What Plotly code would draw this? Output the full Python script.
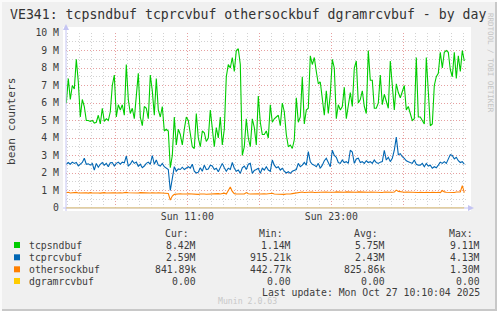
import plotly.graph_objects as go
import pandas as pd

# ---------------- data (values in millions) ----------------
series_names = ["tcpsndbuf", "tcprcvbuf", "othersockbuf", "dgramrcvbuf"]
series_colors = ["#00CC00", "#0066B3", "#FF8000", "#FFCC00"]

tcpsndbuf = [
    6.0, 7.4, 6.2, 7.0, 6.8, 8.5, 7.2, 5.2, 6.2, 5.8,
    5.0, 5.0, 4.95, 5.0, 4.85, 4.9, 5.3, 4.8, 5.7, 4.95,
    5.1, 5.0, 5.5, 7.0, 7.6, 5.2, 5.9, 5.6, 5.9, 5.3,
    8.2, 6.2, 5.4, 5.7, 5.1, 6.5, 7.7, 5.2, 4.7, 5.8,
    5.7, 5.1, 7.6, 6.7, 5.3, 7.4, 5.6, 5.2, 5.8, 4.4,
    4.5, 4.4, 2.3, 3.0, 5.2, 3.6, 4.5, 4.2, 3.6, 4.5,
    5.2, 5.0, 4.3, 3.5, 3.4, 5.4, 4.0, 3.5, 4.4, 4.3,
    3.8, 4.0, 5.6, 4.5, 3.5, 4.6, 4.0, 5.2, 3.6, 4.5,
    7.5, 8.2, 8.0, 8.6, 7.8, 9.0, 9.1, 8.2, 3.0, 3.5,
    5.1, 4.0, 3.5, 5.1, 4.6, 3.6, 6.4, 4.9, 4.2,
    4.2, 4.4, 4.0, 5.9, 4.9, 5.1, 5.2, 5.3, 4.7, 6.0,
    5.5, 4.2, 3.5, 3.6, 3.4, 3.9, 6.3, 4.9, 5.2, 7.5,
    4.8, 5.6, 5.7, 8.7, 8.2, 8.6, 7.8, 7.1, 7.2, 6.1,
    5.3, 6.7, 5.4, 6.5, 8.5, 8.0, 5.1, 5.9, 5.6, 5.8,
    6.9, 5.1, 5.9, 6.6, 5.8, 8.0, 8.4, 6.0, 6.2, 6.7,
    5.8,
    5.4, 9.0, 7.3, 7.3, 5.7, 5.7, 6.0, 7.6, 5.9, 6.5,
    6.1, 5.7, 8.4, 7.0, 5.6, 7.1, 6.6, 6.3, 6.7, 7.0,
    5.6, 5.8, 5.4, 5.0, 5.1, 8.6, 5.2, 5.2, 5.0, 4.8,
    8.6, 6.2, 4.7, 4.8, 7.0, 7.5, 7.7, 8.9, 8.0, 8.9,
    9.0, 8.9, 7.9, 7.5, 8.9, 7.4, 8.7, 7.8, 9.0, 8.4,
]

tcprcvbuf = [
    2.5, 2.6, 2.5, 2.62, 2.55, 2.6, 2.4, 2.52, 2.6, 2.84,
    2.5, 2.53, 2.45, 2.55, 2.17, 2.55, 2.33, 2.5, 2.6, 2.45,
    2.55, 2.36, 2.58, 2.6, 2.4, 2.55, 2.62, 2.5, 2.62, 2.58,
    2.97, 2.4, 2.5, 2.7, 2.55, 2.62, 2.38, 2.5, 2.3, 2.4,
    2.55, 2.62, 2.5, 3.0, 2.5, 2.74, 2.45, 2.4, 2.55, 2.36,
    2.3, 2.2, 1.0, 1.7, 2.36, 2.1, 2.23, 2.2, 2.33, 2.2,
    2.3, 2.36, 2.28, 2.5, 2.1, 2.0, 2.05,
    2.3, 2.1, 2.45, 2.2, 2.23, 2.45, 2.4, 2.2, 2.27, 2.07,
    2.36, 2.55, 2.3, 2.1, 2.27, 2.2, 2.6, 2.27, 2.1, 2.17,
    1.98, 2.3, 2.4, 2.2, 2.5, 2.55, 1.98, 2.15, 2.2, 2.27,
    1.98, 2.27, 2.17, 2.36, 2.17, 2.1, 2.74, 2.45, 2.3, 2.36,
    2.17, 2.27, 2.1, 2.0, 2.07, 1.98, 2.1, 2.17, 2.2, 2.55,
    2.36, 2.45, 2.6, 2.45, 3.22, 2.64, 2.5, 2.45, 2.36, 2.55,
    2.27, 2.45, 2.7, 2.84, 2.55, 2.36, 3.3, 3.0,
    2.9, 2.6, 2.55, 2.74, 2.6, 2.65, 2.55, 3.3, 3.2, 2.55,
    2.8, 2.85, 2.6, 2.65, 2.55, 2.7, 2.6, 2.65, 2.55, 2.74,
    2.6, 2.55, 2.62, 2.65, 3.3, 2.74, 2.9, 2.65, 2.84, 3.3,
    4.05, 3.05, 3.1, 2.93, 2.84, 2.7, 2.65, 2.6, 2.55, 2.74,
    2.5, 2.45, 2.45, 2.55, 2.36, 2.55, 2.4, 2.45, 2.27, 2.36,
    2.3, 2.45, 2.62, 2.55, 2.65, 2.55, 2.8, 3.05, 3.0, 2.8,
    2.9, 2.7, 2.6, 2.65, 2.5,
]

othersockbuf = [
    0.88, 0.9, 0.86, 0.88, 0.87, 0.89, 0.86, 0.87, 0.88, 0.86,
    0.87, 0.85, 0.88, 0.86, 0.87, 0.88, 0.86, 0.85, 0.87, 0.88,
    0.86, 0.87, 0.88, 0.89, 0.87, 0.86, 0.88, 0.87, 0.86, 0.88,
    0.89, 0.87, 0.86, 0.88, 0.87, 0.85, 0.86, 0.88, 0.87, 0.86,
    0.87, 0.88, 0.86, 0.87, 0.85, 0.86, 0.87, 0.86, 0.85, 0.86,
    0.84, 0.83,
    0.45, 0.68, 0.78, 0.8, 0.79, 0.81, 0.8, 0.78, 0.8, 0.81,
    0.8, 0.79, 0.81, 0.8, 0.78, 0.8, 0.82, 0.8, 0.79, 0.8,
    0.81, 0.8, 0.79, 0.8, 0.82, 0.8, 0.81, 0.85, 0.8, 1.05,
    1.2, 0.95, 0.82, 0.8, 0.81, 0.8, 0.82, 0.8, 0.88, 0.81,
    0.8, 0.81, 0.82, 0.8, 0.81, 0.8, 0.82, 0.81, 0.8, 0.82,
    0.8, 0.84, 0.8, 0.79, 0.78, 0.8, 0.79, 0.78, 0.8, 0.79,
    0.8, 0.82, 0.84, 0.86, 0.88,
    0.9, 0.91, 0.89, 0.9, 0.92, 0.9, 0.91, 0.89, 0.9, 0.91,
    0.9, 0.92, 0.9, 0.91, 0.9, 0.89, 0.91, 0.9, 0.92, 0.91,
    0.9, 0.91, 0.9, 0.92, 0.91, 0.9, 0.89, 0.91, 0.9, 0.92,
    0.91, 0.9, 0.91, 0.89, 0.9, 0.91, 0.9, 0.92, 0.9, 0.91,
    0.9, 0.89, 0.91, 0.9, 0.92, 0.91, 0.9, 0.91, 1.02, 0.95,
    0.92, 0.91, 0.9, 0.91, 0.9, 0.89, 0.9, 0.91, 0.9, 0.89,
    0.9, 0.88, 0.89, 0.9, 0.88, 0.89, 0.9, 0.88, 0.89, 0.9,
    0.88, 1.0, 0.92, 0.9, 0.89, 0.91, 0.9, 0.89, 0.91, 0.9,
    0.92, 1.28, 0.88,
]

dgramrcvbuf = [0.0] * 200

cur_vals = ["8.42M", "2.59M", "841.89k", "0.00"]
min_vals = ["1.14M", "915.21k", "442.77k", "0.00"]
avg_vals = ["5.75M", "2.43M", "825.86k", "0.00"]
max_vals = ["9.11M", "4.13M", "1.30M", "0.00"]

y_tick_vals = list(range(0, 11))
y_tick_text = ["0"] + [f"{v} M" for v in range(1, 11)]
x_tick_vals = ["2025-10-26 05:00", "2025-10-26 11:00", "2025-10-26 17:00",
               "2025-10-26 23:00", "2025-10-27 05:00"]
x_tick_text = ["", "Sun 11:00", "", "Sun 23:00", ""]

title_text = "VE341: tcpsndbuf tcprcvbuf othersockbuf dgramrcvbuf - by day"
last_update = "Last update: Mon Oct 27 10:10:04 2025"

# ---------------- geometry ----------------
W, H = 497, 311
PL, PR, PT, PB = 66, 466, 33, 208
FONT = "DejaVu Sans Mono"
TXT = "#3c3c3c"


def px(x):
    return (x - PL) / (PR - PL)


def py(y):
    return (PB - y) / (PB - PT)


times = pd.date_range("2025-10-26 00:55", periods=len(tcpsndbuf), freq="10min")
x_range = ["2025-10-26 00:53:30", "2025-10-27 10:13:30"]
major_set = set(pd.to_datetime(x_tick_vals))
minor_x = [t for t in pd.date_range("2025-10-26 01:00", "2025-10-27 10:00", freq="1h")
           if t not in major_set]
minor_y = [v + 0.5 for v in range(0, 10)]

fig = go.Figure()
for name, vals, col in zip(series_names,
                           [tcpsndbuf, tcprcvbuf, othersockbuf, dgramrcvbuf],
                           series_colors):
    fig.add_trace(go.Scatter(x=times, y=vals, mode="lines", name=name,
                             line=dict(color=col, width=1.1), hoverinfo="skip"))

fig.update_layout(
    width=W, height=H,
    margin=dict(l=PL, r=W - PR, t=PT, b=H - PB, pad=0),
    paper_bgcolor="#F0F0F0", plot_bgcolor="#FFFFFF",
    showlegend=False,
    font=dict(family=FONT, size=10, color=TXT),
)

fig.update_xaxes(
    type="date", range=x_range, tickmode="array",
    tickvals=x_tick_vals, ticktext=x_tick_text,
    showgrid=True, gridcolor="#E6A0A0", griddash="1px,2px", gridwidth=1,
    ticks="", showline=False, zeroline=False,
    tickfont=dict(family=FONT, size=9.8, color=TXT),
    ticklabelstandoff=1,
    minor=dict(tickmode="array", tickvals=minor_x, showgrid=True,
               gridcolor="#D2D2D2", griddash="1px,2px", gridwidth=1),
)
fig.update_yaxes(
    range=[0, 10], tickmode="array", tickvals=y_tick_vals, ticktext=y_tick_text,
    showgrid=True, gridcolor="#E6A0A0", griddash="1px,2px", gridwidth=1,
    ticks="", showline=False, zeroline=False,
    tickfont=dict(family=FONT, size=9.8, color=TXT),
    ticklabelstandoff=6,
    minor=dict(tickmode="array", tickvals=minor_y, showgrid=True,
               gridcolor="#D2D2D2", griddash="1px,2px", gridwidth=1),
)

shapes = []
AX = "#C4C4F2"
# white canvas extension around plot area
shapes.append(dict(type="rect", xref="paper", yref="paper", layer="below",
                   x0=px(63), x1=px(471), y0=py(211), y1=py(27),
                   fillcolor="#FFFFFF", line=dict(width=0)))
# axes with arrows
shapes.append(dict(type="line", xref="paper", yref="paper", layer="above",
                   x0=px(66), x1=px(66), y0=py(211), y1=py(28),
                   line=dict(color=AX, width=1)))
shapes.append(dict(type="path", xref="paper", yref="paper", layer="above",
                   path=f"M {px(63)} {py(30)} L {px(69)} {py(30)} L {px(66)} {py(24)} Z",
                   fillcolor=AX, line=dict(width=0)))
shapes.append(dict(type="line", xref="paper", yref="paper", layer="above",
                   x0=px(63), x1=px(468), y0=py(208), y1=py(208),
                   line=dict(color=AX, width=1)))
shapes.append(dict(type="line", xref="paper", yref="paper", layer="above",
                   x0=px(66), x1=px(464), y0=py(208), y1=py(208),
                   line=dict(color="#E3C98A", width=1)))
shapes.append(dict(type="path", xref="paper", yref="paper", layer="above",
                   path=f"M {px(468)} {py(205)} L {px(468)} {py(211)} L {px(474)} {py(208)} Z",
                   fillcolor=AX, line=dict(width=0)))
# 3D frame
shapes.append(dict(type="line", xref="paper", yref="paper", x0=px(0), x1=px(497),
                   y0=py(310), y1=py(310), line=dict(color="#C8C8C8", width=2)))
shapes.append(dict(type="line", xref="paper", yref="paper", x0=px(496), x1=px(496),
                   y0=py(0), y1=py(311), line=dict(color="#C8C8C8", width=2)))
shapes.append(dict(type="line", xref="paper", yref="paper", x0=px(1), x1=px(1),
                   y0=py(0), y1=py(311), line=dict(color="#FAFAFA", width=2)))
shapes.append(dict(type="line", xref="paper", yref="paper", x0=px(0), x1=px(497),
                   y0=py(1), y1=py(1), line=dict(color="#FAFAFA", width=2)))

# legend squares
row_y = [245, 257.3, 269.3, 281]
for col, yy in zip(series_colors, row_y):
    shapes.append(dict(type="rect", xref="paper", yref="paper",
                       x0=px(14), x1=px(20), y0=py(yy + 3), y1=py(yy - 3),
                       fillcolor=col, line=dict(width=0)))
fig.update_layout(shapes=shapes)

ann = []


def txt(x, y, s, anchor="left", size=9.8, color=TXT, angle=0):
    ann.append(dict(xref="paper", yref="paper", x=px(x), y=py(y), text=s,
                    showarrow=False, xanchor=anchor, yanchor="middle",
                    textangle=angle,
                    font=dict(family=FONT, size=size, color=color)))


txt(8, 14, title_text, size=13.2, color="#333333")
txt(11, 121, "bean counters", anchor="center", size=11.2, angle=-90)
txt(490, 63, "RRDTOOL / TOBI OETIKER", anchor="center", size=7.5,
    color="#C4C4C4", angle=90)

for hx, h in zip([163, 257, 352, 447], ["Cur:", "Min:", "Avg:", "Max:"]):
    txt(hx, 233.3, h)
for i, name in enumerate(series_names):
    yy = row_y[i]
    txt(26.5, yy, name)
    txt(198, yy, cur_vals[i], anchor="right")
    txt(293, yy, min_vals[i], anchor="right")
    txt(387, yy, avg_vals[i], anchor="right")
    txt(482, yy, max_vals[i], anchor="right")
txt(482, 292.7, last_update, anchor="right")
txt(247, 300.5, "Munin 2.0.63", anchor="center", size=8.2, color="#C8C8C8")

fig.update_layout(annotations=ann)
fig.write_html("out.html", config={"displayModeBar": False})
